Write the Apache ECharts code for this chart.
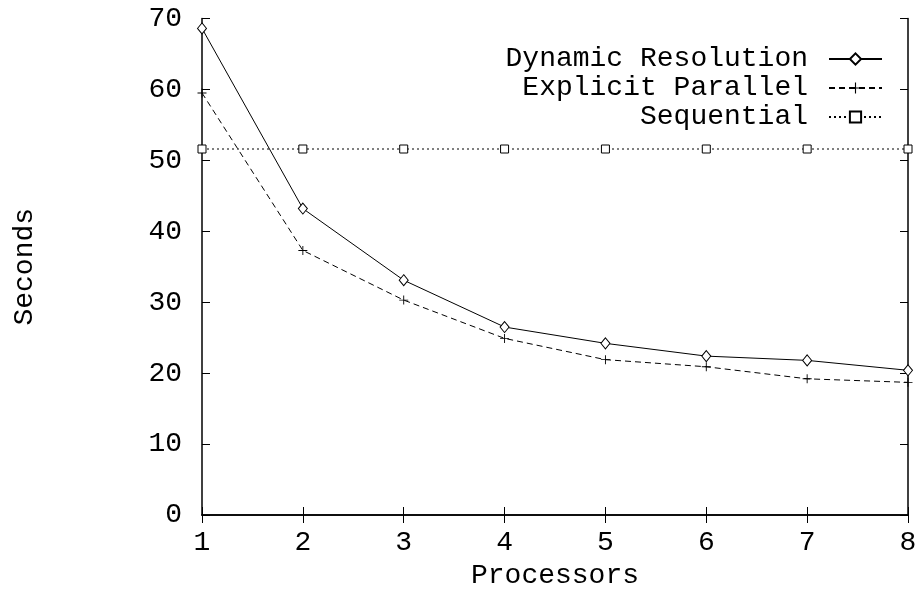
<!DOCTYPE html>
<html>
<head>
<meta charset="utf-8">
<script src="https://cdn.jsdelivr.net/npm/echarts@6/dist/echarts.min.js"></script>
<style>html,body{margin:0;padding:0;background:#fff}#c{width:915px;height:590px}</style>
</head>
<body>
<div id="c"></div>
<script>
const processors = [1, 2, 3, 4, 5, 6, 7, 8];
const dynamicResolution = [68.6, 43.2, 33.1, 26.5, 24.2, 22.4, 21.8, 20.4];
const explicitParallel = [59.5, 37.3, 30.3, 24.9, 21.9, 20.9, 19.2, 18.7];
const sequential = [51.6, 51.6, 51.6, 51.6, 51.6, 51.6, 51.6, 51.6];
const seriesNames = ['Dynamic Resolution', 'Explicit Parallel', 'Sequential'];

const FONT = 'Liberation Mono';
const FS = 28;
const pair = arr => processors.map((p, i) => [p, arr[i]]);
const plusPath = 'path://M0,4.5H4.5V0H5.5V4.5H10V5.5H5.5V10H4.5V5.5H0Z';

const chart = echarts.init(document.getElementById('c'), null, {renderer: 'canvas'});
const axisCommon = {
  type: 'value',
  axisLine: {show: true, lineStyle: {color: '#000', width: 1.5}},
  axisTick: {show: true, inside: true, length: 8, lineStyle: {color: '#000', width: 1}},
  splitLine: {show: false}
};
chart.setOption({
  animation: false,
  backgroundColor: '#fff',
  textStyle: {fontFamily: FONT, color: '#000'},
  grid: {left: 202, right: 7, top: 18.5, bottom: 75, containLabel: false, outerBoundsMode: 'none'},
  legend: {
    orient: 'vertical', right: 27, top: 40, align: 'right',
    itemWidth: 53, itemHeight: 14, itemGap: 1,
    textStyle: {fontFamily: FONT, fontSize: FS, color: '#000', padding: [0, 16, 0, 0]},
    data: seriesNames
  },
  xAxis: [
    Object.assign({}, axisCommon, {
      position: 'bottom', min: 1, max: 8, interval: 1,
      name: 'Processors', nameLocation: 'middle', nameGap: 46,
      nameTextStyle: {fontFamily: FONT, fontSize: FS, color: '#000'},
      axisLabel: {fontFamily: FONT, fontSize: FS, color: '#000', margin: 14}
    }),
    Object.assign({}, axisCommon, {
      position: 'top', min: 1, max: 8, interval: 1, axisLabel: {show: false}
    })
  ],
  yAxis: [
    Object.assign({}, axisCommon, {
      position: 'left', min: 0, max: 70, interval: 10,
      name: 'Seconds', nameLocation: 'middle', nameGap: 163, nameRotate: 90,
      nameTextStyle: {fontFamily: FONT, fontSize: FS, color: '#000'},
      axisLabel: {fontFamily: FONT, fontSize: FS, color: '#000', margin: 20}
    }),
    Object.assign({}, axisCommon, {
      position: 'right', min: 0, max: 70, interval: 10, axisLabel: {show: false}
    })
  ],
  series: [
    {
      name: seriesNames[0], type: 'line', data: pair(dynamicResolution),
      symbol: 'diamond', symbolSize: [9, 11], showAllSymbol: true,
      lineStyle: {color: '#000', width: 1, type: 'solid'},
      itemStyle: {color: '#fff', borderColor: '#000', borderWidth: 1}
    },
    {
      name: seriesNames[1], type: 'line', data: pair(explicitParallel),
      symbol: plusPath, symbolSize: 9, showAllSymbol: true,
      lineStyle: {color: '#000', width: 1, type: [6, 4]},
      itemStyle: {color: '#000', borderWidth: 0}
    },
    {
      name: seriesNames[2], type: 'line', data: pair(sequential),
      symbol: 'rect', symbolSize: 8, showAllSymbol: true,
      lineStyle: {color: '#000', width: 1, type: [2, 3]},
      itemStyle: {color: '#fff', borderColor: '#000', borderWidth: 1}
    }
  ]
});
</script>
</body>
</html>
